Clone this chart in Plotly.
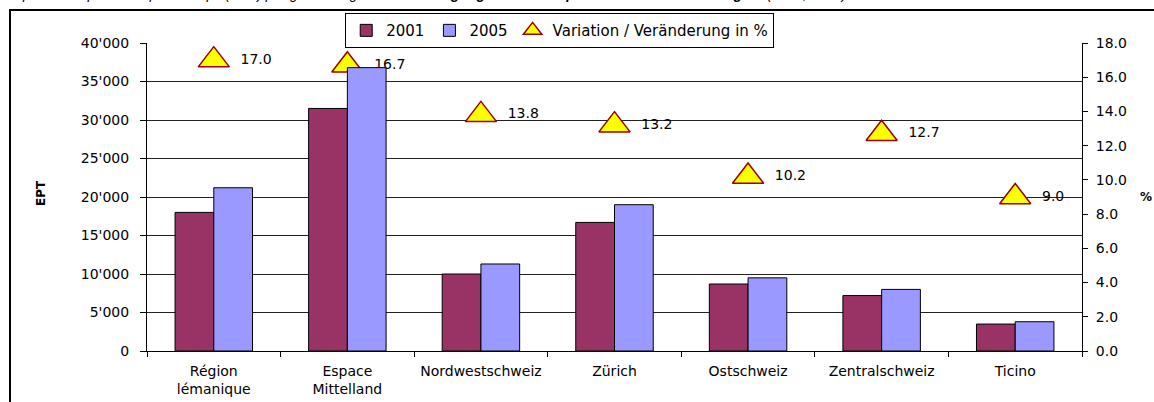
import plotly.graph_objects as go

categories = ["Région<br>lémanique", "Espace<br>Mittelland", "Nordwestschweiz", "Zürich",
              "Ostschweiz", "Zentralschweiz", "Ticino"]
ept_2001 = [18000, 31500, 10000, 16700, 8700, 7200, 3500]
ept_2005 = [21200, 36800, 11300, 19000, 9500, 8000, 3800]
variation = [17.0, 16.7, 13.8, 13.2, 10.2, 12.7, 9.0]
variation_labels = ["17.0", "16.7", "13.8", "13.2", "10.2", "12.7", "9.0"]

FONT = "DejaVu Sans"
NB = "\u00a0\u00a0"

fig = go.Figure()

# Variation on primary (right) axis, so bars (overlay) are drawn above it
fig.add_trace(go.Scatter(
    x=categories, y=variation, yaxis="y", name="Variation / Veränderung in %",
    mode="markers+text", text=[NB + t for t in variation_labels], textposition="middle right",
    textfont=dict(family=FONT, size=14, color="black"),
    marker=dict(symbol="triangle-up", size=27, color="#FFFF00",
                line=dict(color="#990000", width=1.5)),
    legendrank=3, cliponaxis=False,
))
fig.add_trace(go.Bar(
    x=categories, y=ept_2001, yaxis="y2", name="2001",
    marker=dict(color="#993366", line=dict(color="black", width=1)),
    legendrank=1,
))
fig.add_trace(go.Bar(
    x=categories, y=ept_2005, yaxis="y2", name="2005",
    marker=dict(color="#9999FF", line=dict(color="black", width=1)),
    legendrank=2,
))

fig.update_layout(
    width=1154, height=402,
    margin=dict(l=147, r=72, t=43, b=51),
    paper_bgcolor="white", plot_bgcolor="white",
    separators=".'",
    barmode="group", bargap=0.42, bargroupgap=0,
    font=dict(family=FONT, size=14, color="black"),
    xaxis=dict(
        type="category", tickson="boundaries", ticks="outside", ticklen=5,
        tickcolor="black", showline=True, linecolor="black", linewidth=1,
        showgrid=False, tickfont=dict(family=FONT, size=14), ticklabelstandoff=7,
        automargin=False,
    ),
    yaxis=dict(
        side="right", range=[0, 18], dtick=2, tickformat=".1f",
        showgrid=False, zeroline=False, showline=True, linecolor="black",
        ticks="outside", ticklen=5, tickcolor="black", ticklabelstandoff=5,
        tickfont=dict(family=FONT, size=14), automargin=False,
    ),
    yaxis2=dict(
        overlaying="y", side="left", range=[0, 40000], dtick=5000, tickformat=",d",
        showgrid=True, gridcolor="#222222", gridwidth=1, zeroline=False,
        showline=True, linecolor="black", ticks="outside", ticklen=6, tickcolor="black",
        ticklabelstandoff=8, tickfont=dict(family=FONT, size=14), automargin=False,
    ),
    legend=dict(
        orientation="h", x=0.212, xanchor="left", y=1.097, yanchor="top",
        bordercolor="black", borderwidth=1, bgcolor="white",
        font=dict(family=FONT, size=15), traceorder="normal",
    ),
    showlegend=True,
)

# outer frame
fig.add_shape(type="rect", xref="paper", yref="paper",
              x0=(10 - 147) / 935, x1=(1160 - 147) / 935,
              y0=(351 - 420) / 308, y1=(351 - 10) / 308,
              line=dict(color="black", width=2), fillcolor="rgba(0,0,0,0)", layer="below")

# clipped title at top
fig.add_annotation(
    xref="paper", yref="paper", x=(0 - 147) / 935, y=1, xanchor="left", yanchor="bottom",
    yshift=39, showarrow=False,
    text="<i>Emplois en équivalents plein temps (EPT) par grande région / </i>"
         "<b><i>Beschäftigung in Vollzeitäquivalenten nach Grossregion</i></b><i> (2001, 2005)</i>",
    font=dict(family="Liberation Sans", size=14, color="black"),
)

# axis titles
fig.add_annotation(xref="paper", yref="paper", x=(41 - 147) / 935, y=(351 - 193) / 308,
                   xanchor="center", yanchor="middle",
                   text="<b>EPT</b>", textangle=-90, showarrow=False,
                   font=dict(family=FONT, size=12))
fig.add_annotation(xref="paper", yref="paper", x=(1146 - 147) / 935, y=(351 - 197) / 308,
                   xanchor="center", yanchor="middle",
                   text="<b>%</b>", showarrow=False, font=dict(family=FONT, size=12))

fig.write_html("out.html", config={"displayModeBar": False},
               post_script="document.body.style.margin='0';document.body.style.overflow='hidden';")
